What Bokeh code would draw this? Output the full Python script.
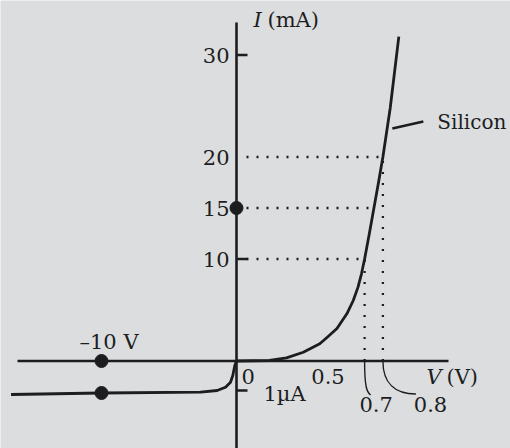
import numpy as np
from bokeh.plotting import figure
from bokeh.core.properties import value
from bokeh.embed import file_html
from bokeh.resources import INLINE

# ---------------- data ----------------
# forward characteristic: V (volts), I (mA)
fwd_v = [0.0, 0.18, 0.273, 0.365, 0.455, 0.496, 0.549, 0.603, 0.638, 0.664, 0.683, 0.70, 0.725, 0.75, 0.775, 0.80, 0.84, 0.887]
fwd_i = [0.0, 0.05, 0.31, 0.86, 1.69, 2.33, 3.19, 4.63, 5.93, 7.24, 8.55, 10.0, 12.4, 14.9, 17.4, 20.0, 24.8, 31.8]

# reverse characteristic: V (volts), I (microamps)
rev_v = [-16.7, -10.0, -2.67, -1.43, -0.815, -0.444, -0.274, -0.126, 0.0]
rev_i_ua = [-1.136, -1.085, -1.058, -1.0, -0.888, -0.719, -0.492, -0.153, 0.0]

# y axis labels (mA)
y_label_vals = [30, 20, 15, 10]
y_label_text = ["30", "20", "15", "10"]
y_tick_vals = [30, 10]
rev_tick_ua = -1.0          # 1 µA tick
rev_tick_text = "1µA"

# reference (dotted) lines
guide_i = [20, 15, 10]        # mA
guide_v = [0.80, 0.75, 0.70]  # V where the curve reaches them
vert_v = [0.70, 0.80]
vert_i = [10, 20]
vert_text = ["0.7", "0.8"]

# x labels
x_label_vals = [0.5]
x_label_text = ["0.5"]
rev_marker_v = -10.0
rev_marker_text = "–10 V"
dot_i = 15
silicon_i = 22.9              # current where the "Silicon" pointer touches the curve

# ---------------- layout constants ----------------
PXV = 183.0      # px per volt (forward)
PXI = 10.2       # px per mA
REV_V = 0.07377  # plot-volts per reverse volt (compressed scale)
REV_I = 2.892    # plot-mA per µA (expanded scale)
W, H = 510, 448
BG = "#dcdddf"
INK = "#1d1d1f"
FONT = value("DejaVu Serif")
FS = "21px"
TEXT_LIFT = 7    # px


def dx(px):
    return px / PXV


def dy(px):  # positive = downwards on screen
    return -px / PXI


p = figure(width=W, height=H, output_backend="svg", toolbar_location=None,
           x_range=(dx(-236), dx(274)), y_range=(dy(87.5), dy(-360.5)),
           min_border=0, background_fill_color=BG, border_fill_color=BG,
           outline_line_color=None)
p.axis.visible = False
p.grid.visible = False

# axes
x_axis_lo, x_axis_hi = dx(-219), dx(212)
y_axis_lo, y_axis_hi = dy(95), dy(-338.5)
p.segment(x0=[x_axis_lo], y0=[0], x1=[x_axis_hi], y1=[0], line_color=INK, line_width=2.6)
p.segment(x0=[0], y0=[y_axis_lo], x1=[0], y1=[y_axis_hi], line_color=INK, line_width=2.6)

# ticks
tick_ys = y_tick_vals + [rev_tick_ua * REV_I]
p.segment(x0=[0] * len(tick_ys), y0=tick_ys, x1=[dx(11)] * len(tick_ys), y1=tick_ys,
          line_color=INK, line_width=2.6)

# dotted guide lines
p.segment(x0=[dx(10)] * len(guide_i), y0=guide_i, x1=guide_v, y1=guide_i,
          line_color=INK, line_width=2.3, line_dash="2 8")
p.segment(x0=vert_v, y0=[0] * len(vert_v), x1=vert_v, y1=vert_i,
          line_color=INK, line_width=2.3, line_dash="2 9")

# characteristic curves
p.line(fwd_v, fwd_i, line_color=INK, line_width=2.8, line_join="round")
p.line([v * REV_V for v in rev_v], [i * REV_I for i in rev_i_ua],
       line_color=INK, line_width=2.8, line_join="round")

# dots
rev_at_marker = rev_i_ua[rev_v.index(rev_marker_v)]
p.scatter([rev_marker_v * REV_V, rev_marker_v * REV_V, 0],
          [0, rev_at_marker * REV_I, dot_i], size=13, color=INK)

# leader lines for 0.7 and 0.8
p.bezier(x0=[vert_v[0], vert_v[1]], y0=[0, 0],
         x1=[vert_v[0] + dx(6), vert_v[1] + dx(33)], y1=[dy(34), dy(33)],
         cx0=[vert_v[0], vert_v[1]], cy0=[dy(25), dy(22)],
         cx1=[vert_v[0] + dx(2), vert_v[1] + dx(12)], cy1=[dy(31), dy(33)],
         line_color=INK, line_width=1.4)

# Silicon leader
si_i = silicon_i
si_v = float(np.interp(si_i, fwd_i, fwd_v))
p.segment(x0=[si_v + dx(5)], y0=[si_i + dy(1)], x1=[si_v + dx(36)], y1=[si_i + dy(-6)],
          line_color=INK, line_width=2.6)


def txt(texts, xs, ys, align="left", italic=False, size=FS):
    p.text(x=xs, y=[y + dy(-TEXT_LIFT) for y in ys], text=texts, text_font=FONT,
           text_font_size=size, text_color=INK, text_align=align,
           text_baseline="alphabetic",
           text_font_style="italic" if italic else "normal")


# y labels
txt(y_label_text, [dx(-7)] * len(y_label_vals), [v + dy(7.5) for v in y_label_vals], align="right")
# axis titles
txt(["I"], [dx(17)], [y_label_vals[0] + dy(-28)], italic=True)
txt(["(mA)"], [dx(31)], [y_label_vals[0] + dy(-28)])
txt(["V"], [x_axis_hi + dx(-22)], [dy(22.5)], italic=True)
txt(["(V)"], [x_axis_hi + dx(-2)], [dy(22.5)])
# x labels
txt(["0"], [dx(5)], [dy(22.5)])
txt(x_label_text, x_label_vals, [dy(22.5)] * len(x_label_vals), align="center")
txt(vert_text, [vert_v[0] + dx(11.5), vert_v[1] + dx(47.6)], [dy(50.5)] * 2, align="center")
txt([rev_marker_text], [rev_marker_v * REV_V + dx(-22)], [dy(-12.5)])
txt([rev_tick_text], [dx(27)], [rev_tick_ua * REV_I + dy(11)])
txt(["Silicon"], [si_v + dx(50)], [si_i + dy(2)], size="20px")

open("out.html", "w").write(file_html(p, INLINE))
